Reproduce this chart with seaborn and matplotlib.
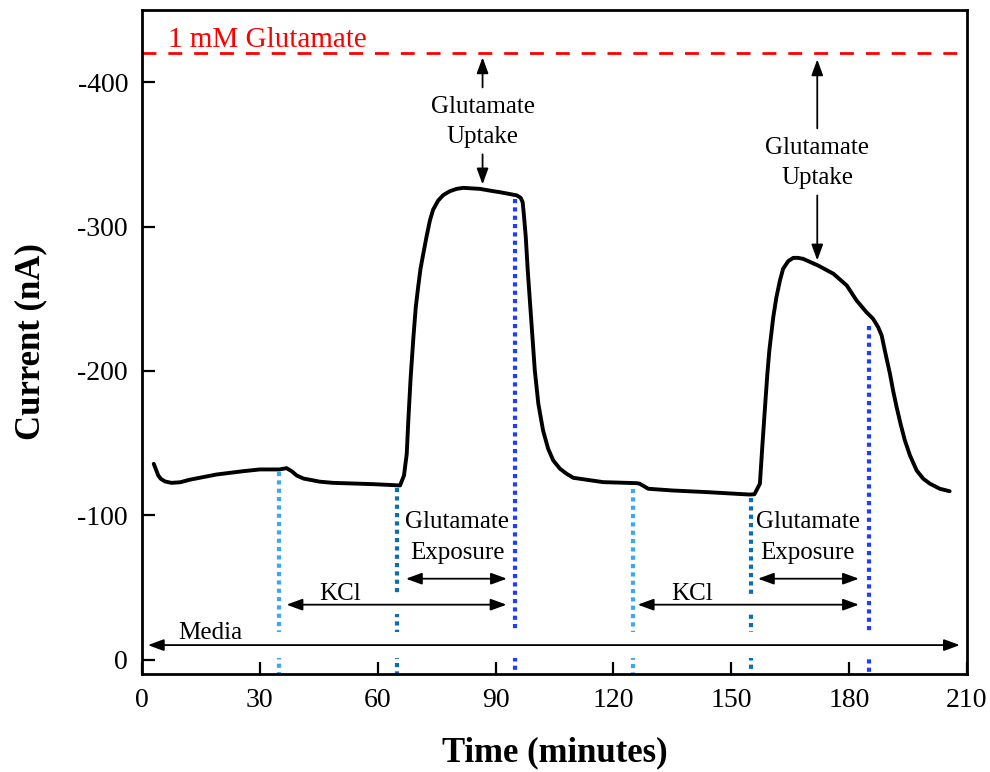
import matplotlib
matplotlib.use("Agg")
import matplotlib.pyplot as plt
import seaborn as sns
import pandas as pd

# ---------------- data ----------------
time_min = [3.0, 3.6, 4.15, 4.8, 5.85, 7.5, 9.7, 12.2, 19.0, 25.8, 30.0, 35.0, 36.8, 38.1,
            39.4, 41.1, 45.3, 48.7, 58.9, 65.7, 66.7, 67.4, 67.8, 68.4, 69.1, 69.7, 70.3,
            70.9, 71.6, 72.5, 73.3, 74.1, 75.4, 76.7, 78.4, 80.1, 81.8, 86.0, 89.4, 91.1,
            95.4, 96.4, 96.9, 97.2, 97.7, 98.2, 98.8, 99.4, 100.0, 100.9, 102.1, 103.4,
            104.7, 106.4, 108.1, 109.8, 117.4, 125.9, 126.7, 128.9, 135.2, 143.7, 154.7,
            155.9, 157.3, 157.9, 158.6, 159.2, 159.7, 160.7, 161.5, 162.4, 163.2, 164.5,
            165.8, 167.0, 168.3, 172.1, 176.0, 179.4, 181.9, 184.4, 186.1, 187.4, 188.3,
            189.1, 190.4, 191.2, 192.1, 193.1, 194.2, 195.5, 197.2, 198.9, 200.6, 203.1,
            205.6]
current_nA = [-135.6, -131.4, -127.5, -125.2, -123.4, -122.4, -122.8, -124.6, -128.2, -130.5,
              -131.7, -131.7, -132.6, -130.5, -127.5, -125.4, -123.2, -122.4, -121.5, -120.6,
              -127.5, -142.5, -165.6, -195.6, -223.4, -244.2, -258.0, -270.7, -281.0, -293.8,
              -304.2, -311.6, -318.0, -321.8, -324.5, -326.1, -326.8, -326.1, -324.5, -323.8,
              -321.6, -319.9, -316.9, -308.8, -292.7, -269.6, -246.5, -223.4, -200.3, -177.2,
              -158.7, -146.0, -137.9, -132.2, -128.7, -125.9, -122.9, -122.2, -121.8, -118.3,
              -117.1, -116.0, -114.3, -114.5, -121.8, -147.1, -174.9, -198.0, -214.1, -237.2,
              -251.0, -262.6, -270.7, -276.0, -278.3, -278.3, -277.6, -273.0, -267.3, -259.2,
              -248.8, -240.7, -236.1, -230.3, -224.5, -214.1, -198.0, -186.4, -174.9, -163.3,
              -151.8, -141.4, -131.0, -125.2, -121.8, -118.3, -116.6]

# event markers (vertical dotted lines)
event_times = [35, 65, 95, 125, 155, 185]
event_tops = [-130, -119, -319, -118, -112, -231]
event_colors = ["#3aa8f2", "#0b6db3", "#1f3cff", "#3aa8f2", "#0b6db3", "#1f3cff"]

glutamate_level = -420

# horizontal phase arrows
phase_labels = ["Glutamate\nExposure", "KCl", "Glutamate\nExposure", "KCl", "Media"]
phase_y = [-56, -38, -56, -38, -10]
phase_start = [67.2, 36.8, 156.8, 126.2, 1.5]
phase_end = [92.9, 92.8, 182.5, 182.5, 208.2]
phase_label_x = [80.2, 50.4, 169.5, 140.0, 17.3]
phase_label_y = [-84.5, -45.7, -84.5, -45.7, -18.7]
phase_gap = [0, 13, 0, 13, 18.7]  # white gap (pt) cut into crossing lines

# uptake annotations
uptake_x = [86.7, 171.9]
uptake_text_y = [-372.5, -344.0]
uptake_up = [(-396.4, -417.2), (-368.0, -415.8)]
uptake_down = [(-350.0, -329.2), (-321.5, -276.5)]

xticks = [0, 30, 60, 90, 120, 150, 180, 210]
yticks = [0, -100, -200, -300, -400]
ytick_labels = ["0", "-100", "-200", "-300", "-400"]

# ---------------- style ----------------
sns.set_theme(style="ticks")
plt.rcParams["font.family"] = ["Liberation Serif", "DejaVu Serif"]
plt.rcParams["axes.unicode_minus"] = False
plt.rcParams["text.color"] = "black"
plt.rcParams["axes.labelcolor"] = "black"
plt.rcParams["xtick.color"] = "black"
plt.rcParams["ytick.color"] = "black"

fig = plt.figure(figsize=(9.9, 7.72), dpi=100)
ax = fig.add_axes([0.1434, 0.127, 0.8333, 0.860])

df = pd.DataFrame({"Time": time_min, "Current": current_nA})

# vertical dotted lines
for t, top, c in zip(event_times, event_tops, event_colors):
    ax.plot([t, t], [top, 10], color=c, lw=3, dashes=(1, 1),
            dash_capstyle="butt", zorder=1.8)

# white gaps where arrows cross lines
for y, x0, x1, g in zip(phase_y, phase_start, phase_end, phase_gap):
    if g > 0:
        ax.plot([x0, x1], [y, y], color="white", lw=g, solid_capstyle="butt", zorder=2.1)

sns.lineplot(data=df, x="Time", y="Current", color="black", lw=2.8, ax=ax,
             estimator=None, sort=False, zorder=2.4)
ax.lines[-1].set_solid_joinstyle("round")
ax.lines[-1].set_solid_capstyle("round")

# glutamate level
ax.axhline(glutamate_level, color="#ff0000", lw=2, dashes=(5, 4.3), zorder=2.2)
ax.text(6.5, -424.5, "1 mM Glutamate", color="#ff0000", fontsize=21, va="baseline", ha="left")

arrow_kw = dict(arrowstyle="<|-|>,head_length=0.6,head_width=0.22", color="black",
                lw=1.3, shrinkA=0, shrinkB=0, mutation_scale=16)
one_kw = dict(arrowstyle="-|>,head_length=0.6,head_width=0.22", color="black",
              lw=1.3, shrinkA=0, shrinkB=0, mutation_scale=16)

for lab, y, x0, x1, lx, ly in zip(phase_labels, phase_y, phase_start, phase_end,
                                  phase_label_x, phase_label_y):
    ax.annotate("", xy=(x1, y), xytext=(x0, y), arrowprops=arrow_kw, zorder=3)
    ax.text(lx, ly, lab, fontsize=18, ha="center", va="center", linespacing=1.5, zorder=4)

for x, ty, up, dn in zip(uptake_x, uptake_text_y, uptake_up, uptake_down):
    ax.text(x, ty, "Glutamate\nUptake", fontsize=18, ha="center", va="center",
            linespacing=1.5, zorder=4)
    ax.annotate("", xy=(x, up[1]), xytext=(x, up[0]), arrowprops=one_kw, zorder=3)
    ax.annotate("", xy=(x, dn[1]), xytext=(x, dn[0]), arrowprops=one_kw, zorder=3)

ax.set_xlim(0, 210)
ax.set_ylim(10, -450)
ax.set_xticks(xticks)
ax.set_xticklabels([str(v) for v in xticks])
ax.set_yticks(yticks)
ax.set_yticklabels(ytick_labels)
ax.tick_params(direction="in", length=9, width=1.6, labelsize=20, pad=10, colors="black",
               top=False, right=False)
for s in ax.spines.values():
    s.set_visible(True)
    s.set_linewidth(2)
    s.set_color("black")

ax.set_xlabel("Time (minutes)", fontsize=25, fontweight="bold", labelpad=17)
ax.set_ylabel("Current (nA)", fontsize=25, fontweight="bold", labelpad=22)

fig.savefig("out.png", dpi=100, facecolor="white")
